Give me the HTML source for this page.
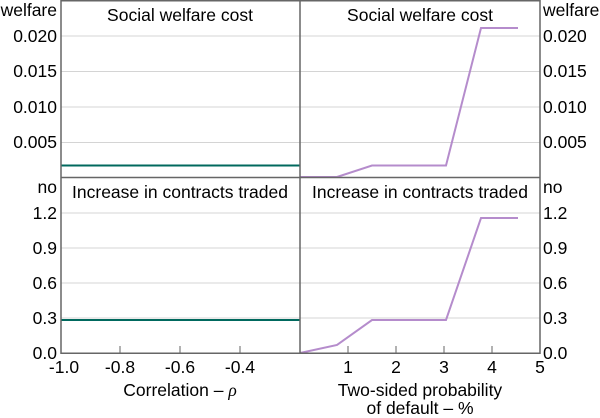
<!DOCTYPE html>
<html><head><meta charset="utf-8"><style>
body{margin:0;background:#fff}
svg{display:block;font-family:"Liberation Sans",sans-serif}
</style></head><body>
<svg width="600" height="418" viewBox="0 0 600 418">
<g stroke="#d4d4d4" stroke-width="1">
<line x1="61" x2="540" y1="36" y2="36"/><line x1="61" x2="540" y1="71.5" y2="71.5"/>
<line x1="61" x2="540" y1="107" y2="107"/><line x1="61" x2="540" y1="142.5" y2="142.5"/>
<line x1="61" x2="540" y1="213" y2="213"/><line x1="61" x2="540" y1="248" y2="248"/>
<line x1="61" x2="540" y1="283" y2="283"/><line x1="61" x2="540" y1="318" y2="318"/>
</g>
<polyline points="61,165.5 300,165.5" fill="none" stroke="#00695e" stroke-width="2"/>
<polyline points="61,320 300,320" fill="none" stroke="#00695e" stroke-width="2"/>
<polyline points="300,177 337,177 372,165.5 446,165.5 481,28 518,28" fill="none" stroke="#b58ccc" stroke-width="2"/>
<polyline points="300,353 337,345 372,320 446,320 481,218 518,218" fill="none" stroke="#b58ccc" stroke-width="2"/>
<g stroke="#666" stroke-width="1.5" fill="none">
<rect x="61" y="0.75" width="479" height="352.5"/>
<line x1="300" x2="300" y1="0" y2="353"/>
<line x1="61" x2="540" y1="177.5" y2="177.5"/>
</g>
<g stroke="#666" stroke-width="1">
<line x1="120" x2="120" y1="353" y2="346"/><line x1="180" x2="180" y1="353" y2="346"/><line x1="240" x2="240" y1="353" y2="346"/>
<line x1="348" x2="348" y1="353" y2="346"/><line x1="396" x2="396" y1="353" y2="346"/><line x1="444" x2="444" y1="353" y2="346"/><line x1="492" x2="492" y1="353" y2="346"/>
</g>
<g font-size="17.5" fill="#000">
<text x="180" y="21" text-anchor="middle">Social welfare cost</text>
<text x="420" y="21" text-anchor="middle">Social welfare cost</text>
<text x="180" y="198" text-anchor="middle">Increase in contracts traded</text>
<text x="420" y="198" text-anchor="middle">Increase in contracts traded</text>
<g text-anchor="end">
<text x="57" y="16">welfare</text>
<text x="57" y="42">0.020</text><text x="57" y="77">0.015</text><text x="57" y="113">0.010</text><text x="57" y="148">0.005</text>
<text x="57" y="193">no</text>
<text x="57" y="219">1.2</text><text x="57" y="254">0.9</text><text x="57" y="289">0.6</text><text x="57" y="324">0.3</text><text x="57" y="359">0.0</text>
</g>
<g text-anchor="start">
<text x="543" y="16">welfare</text>
<text x="543" y="42">0.020</text><text x="543" y="77">0.015</text><text x="543" y="113">0.010</text><text x="543" y="148">0.005</text>
<text x="543" y="193">no</text>
<text x="543" y="219">1.2</text><text x="543" y="254">0.9</text><text x="543" y="289">0.6</text><text x="543" y="324">0.3</text><text x="543" y="359">0.0</text>
</g>
<g text-anchor="middle">
<text x="64" y="373">-1.0</text><text x="120" y="373">-0.8</text><text x="180" y="373">-0.6</text><text x="240" y="373">-0.4</text>
<text x="348" y="373">1</text><text x="396" y="373">2</text><text x="444" y="373">3</text><text x="492" y="373">4</text><text x="540" y="373">5</text>
<text x="180" y="396">Correlation – <tspan font-family="Liberation Serif" font-style="italic">ρ</tspan></text>
<text x="420" y="396">Two-sided probability</text>
<text x="420" y="414">of default – %</text>
</g>
</g>
</svg>
</body></html>
